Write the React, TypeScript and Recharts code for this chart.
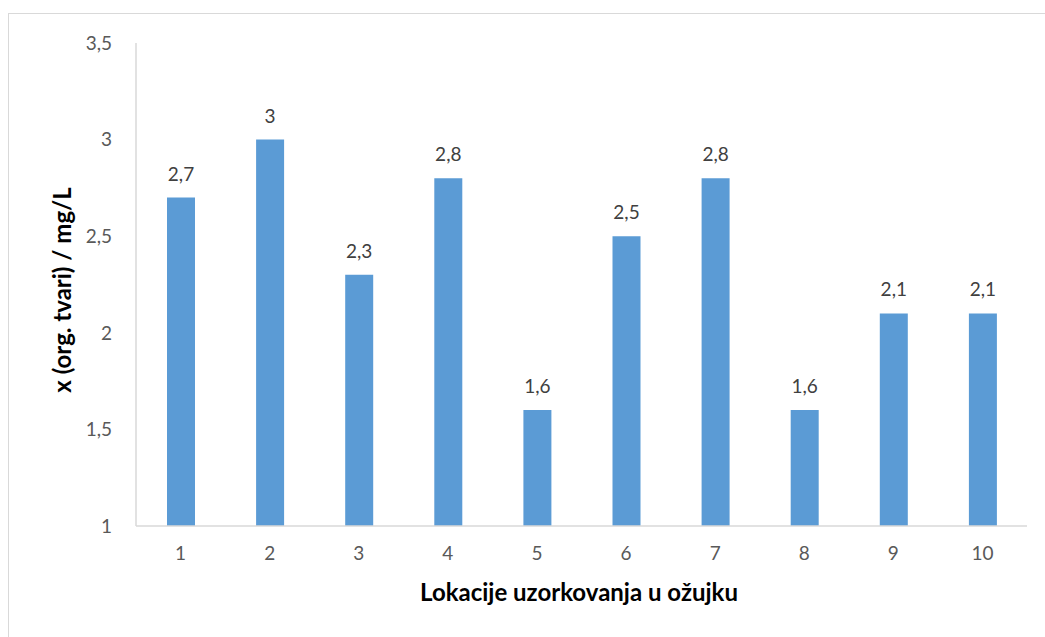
import { BarChart, Bar, XAxis, YAxis, LabelList, Label } from 'recharts';

// Organic matter per sampling location (March)
const locations = ['1', '2', '3', '4', '5', '6', '7', '8', '9', '10'];
const orgMatter = [2.7, 3, 2.3, 2.8, 1.6, 2.5, 2.8, 1.6, 2.1, 2.1];
const yTicks = [1, 1.5, 2, 2.5, 3, 3.5];

const data = locations.map((loc, i) => ({ loc, value: orgMatter[i] }));

const FONT = 'Lato, "Open Sans", sans-serif';
const comma = (v: number | string) => String(v).replace('.', ',');

export default function App() {
  return (
    <div
      style={{
        position: 'fixed',
        left: 0,
        top: 0,
        width: 1045,
        height: 637,
        overflow: 'hidden',
        background: '#fff',
        fontFamily: FONT,
      }}
    >
      {/* outer chart frame */}
      <div
        style={{
          position: 'absolute',
          left: 8,
          top: 13,
          width: 1060,
          height: 660,
          border: '1px solid #d9d9d9',
        }}
      />
      <div style={{ position: 'absolute', left: 0, top: 0 }}>
        <BarChart
          width={1045}
          height={637}
          data={data}
          margin={{ top: 43, right: 18, bottom: 81, left: 0 }}
        >
          <XAxis
            dataKey="loc"
            height={30}
            axisLine={{ stroke: '#d9d9d9', strokeWidth: 1.5 }}
            tickLine={false}
            tickSize={0}
            tickMargin={21}
            tick={{ fontSize: 19, fill: '#595959', fontFamily: FONT }}
          >
            <Label
              content={() => (
                <text
                  x={579}
                  y={601}
                  textAnchor="middle"
                  fontSize={24}
                  fontWeight="bold"
                  fill="#000"
                  fontFamily={FONT}
                >
                  Lokacije uzorkovanja u ožujku
                </text>
              )}
            />
          </XAxis>
          <YAxis
            width={136}
            domain={[1, 3.5]}
            ticks={yTicks}
            allowDataOverflow
            axisLine={{ stroke: '#d9d9d9', strokeWidth: 1.5 }}
            tickLine={false}
            tickSize={0}
            tickMargin={24}
            tickFormatter={comma}
            tick={{ fontSize: 19, fill: '#595959', fontFamily: FONT }}
          >
            <Label
              content={() => (
                <text
                  x={71}
                  y={290}
                  transform="rotate(-90 71 290)"
                  textAnchor="middle"
                  fontSize={24}
                  fontWeight="bold"
                  fill="#000"
                  fontFamily={FONT}
                >
                  x (org. tvari) / mg/L
                </text>
              )}
            />
          </YAxis>
          <Bar dataKey="value" fill="#5b9bd5" barSize={28} isAnimationActive={false}>
            <LabelList
              dataKey="value"
              position="top"
              offset={17}
              formatter={(v: any) => comma(v)}
              style={{ fontSize: 19, fill: '#404040', fontFamily: FONT }}
            />
          </Bar>
        </BarChart>
      </div>
    </div>
  );
}
